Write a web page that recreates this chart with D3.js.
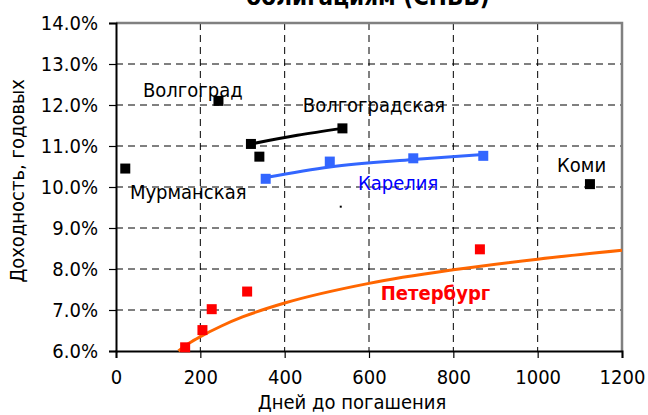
<!DOCTYPE html>
<html lang="ru">
<head>
    <meta charset="UTF-8">
    <title>Доходность по облигациям</title>
    <script src="https://d3js.org/d3.v7.min.js"></script>
    <style>
        body { margin: 0; background: #fff; }
        text { font-family: "DejaVu Sans Condensed", "DejaVu Sans", sans-serif; font-stretch: condensed; }
    </style>
</head>
<body>
    <div id="chart"></div>
    <script>
        const width = 648;
        const height = 415;
        const fontFam = '"DejaVu Sans Condensed", "DejaVu Sans", sans-serif';
        const fs = 20;

        // ticks
        const xTicks = [0, 200, 400, 600, 800, 1000, 1200];
        const yTicks = [6, 7, 8, 9, 10, 11, 12, 13, 14];

        // single black points (Мурманская, Волгоград, ?, Коми)
        const blackDays = [22, 243, 340, 1124];
        const blackYields = [10.45, 12.10, 10.74, 10.07];

        // Волгоградская
        const volgDays = [320, 537];
        const volgYields = [11.05, 11.43];
        const volgTrendDays = [320, 430, 537];
        const volgTrendYields = [11.05, 11.26, 11.43];

        // Карелия
        const karDays = [355, 507, 705, 871];
        const karYields = [10.20, 10.62, 10.70, 10.76];
        const karTrendDays = [355, 507, 705, 871];
        const karTrendYields = [10.23, 10.49, 10.67, 10.79];

        // Петербург
        const spbDays = [164, 205, 227, 311, 863];
        const spbYields = [6.09, 6.51, 7.02, 7.45, 8.48];
        const spbTrendDays = [148, 175, 200, 250, 300, 400, 600, 800, 1000, 1200];
        const spbTrendYields = [6.0, 6.2, 6.35, 6.61, 6.83, 7.17, 7.65, 7.98, 8.24, 8.46];

        // tiny stray dot
        const dotDays = [533];
        const dotYields = [9.52];

        // labels (left edge in days, middle in yield)
        const labelNames = ["Волгоград", "Волгоградская", "Мурманская", "Карелия", "Коми", "Петербург"];
        const labelDays = [64, 443, 33, 574, 1046, 628];
        const labelYields = [12.37, 12.0, 9.88, 10.10, 10.54, 7.41];
        const labelColors = ["#000", "#000", "#000", "#0000ff", "#000", "#ff0000"];

        const margin = { left: 116, right: 26, top: 23, bottom: 64 };

        const x = d3.scaleLinear().domain([0, 1200]).range([margin.left, width - margin.right]);
        const y = d3.scaleLinear().domain([6, 14]).range([height - margin.bottom, margin.top]);

        const svg = d3.select("#chart").append("svg")
            .attr("width", width)
            .attr("height", height);

        // title (cut off at top)
        svg.append("text")
            .attr("x", 368)
            .attr("y", 5)
            .attr("text-anchor", "middle")
            .attr("font-size", 24)
            .attr("font-weight", "bold")
            .text("облигациям (СНБВ)");

        // grid
        svg.append("g").selectAll("line")
            .data(xTicks.slice(1, -1))
            .join("line")
            .attr("x1", d => x(d)).attr("x2", d => x(d))
            .attr("y1", y(14)).attr("y2", y(6))
            .attr("stroke", "#000").attr("stroke-width", 1)
            .attr("stroke-dasharray", "7,5");

        svg.append("g").selectAll("line")
            .data(yTicks.slice(1, -1))
            .join("line")
            .attr("x1", x(0)).attr("x2", x(1200))
            .attr("y1", d => y(d)).attr("y2", d => y(d))
            .attr("stroke", "#000").attr("stroke-width", 1)
            .attr("stroke-dasharray", "7,5");

        // plot border (top, right)
        svg.append("path")
            .attr("d", `M${x(0)},${y(14)}H${x(1200)}V${y(6)}`)
            .attr("fill", "none")
            .attr("stroke", "#808080")
            .attr("stroke-width", 2.5);

        // axes
        const xAxis = svg.append("g")
            .attr("transform", `translate(0,${y(6)})`)
            .call(d3.axisBottom(x).tickValues(xTicks).tickSize(7).tickPadding(12)
                .tickFormat(d => String(d)));
        const yAxis = svg.append("g")
            .attr("transform", `translate(${x(0)},0)`)
            .call(d3.axisLeft(y).tickValues(yTicks).tickSize(7).tickPadding(11)
                .tickFormat(d => d.toFixed(1) + "%"));

        [xAxis, yAxis].forEach(g => {
            g.select(".domain").attr("stroke", "#000").attr("stroke-width", 2);
            g.selectAll(".tick line").attr("stroke", "#000").attr("stroke-width", 1.2);
            g.selectAll(".tick text")
                .attr("font-family", fontFam)
                .attr("font-size", fs)
                .attr("fill", "#000");
        });

        // axis titles
        svg.append("text")
            .attr("x", 352)
            .attr("y", 409)
            .attr("text-anchor", "middle")
            .attr("font-size", fs)
            .text("Дней до погашения");

        svg.append("text")
            .attr("transform", "translate(24,181) rotate(-90)")
            .attr("text-anchor", "middle")
            .attr("font-size", fs)
            .text("Доходность, годовых");

        // trendlines
        const line = d3.line()
            .x(d => x(d[0]))
            .y(d => y(d[1]))
            .curve(d3.curveMonotoneX);

        svg.append("path")
            .datum(d3.zip(spbTrendDays, spbTrendYields))
            .attr("d", line)
            .attr("fill", "none")
            .attr("stroke", "#ff6600")
            .attr("stroke-width", 3);

        svg.append("path")
            .datum(d3.zip(karTrendDays, karTrendYields))
            .attr("d", line)
            .attr("fill", "none")
            .attr("stroke", "#3366ff")
            .attr("stroke-width", 3);

        svg.append("path")
            .datum(d3.zip(volgTrendDays, volgTrendYields))
            .attr("d", line)
            .attr("fill", "none")
            .attr("stroke", "#000")
            .attr("stroke-width", 3);

        // markers
        const sq = 10;
        function squares(days, yields, color) {
            svg.append("g").selectAll("rect")
                .data(d3.zip(days, yields))
                .join("rect")
                .attr("x", d => x(d[0]) - sq / 2)
                .attr("y", d => y(d[1]) - sq / 2)
                .attr("width", sq)
                .attr("height", sq)
                .attr("fill", color);
        }
        squares(spbDays, spbYields, "#ff0000");
        squares(karDays, karYields, "#3366ff");
        squares(volgDays, volgYields, "#000");
        squares(blackDays, blackYields, "#000");

        svg.append("g").selectAll("rect")
            .data(d3.zip(dotDays, dotYields))
            .join("rect")
            .attr("x", d => x(d[0]) - 1)
            .attr("y", d => y(d[1]) - 1)
            .attr("width", 2)
            .attr("height", 2)
            .attr("fill", "#000");

        // labels
        svg.append("g").selectAll("text")
            .data(labelNames)
            .join("text")
            .attr("x", (d, i) => x(labelDays[i]))
            .attr("y", (d, i) => y(labelYields[i]) + 7)
            .attr("font-size", fs)
            .attr("font-weight", (d, i) => d === "Петербург" ? "bold" : "normal")
            .attr("fill", (d, i) => labelColors[i])
            .text(d => d);
    </script>
</body>
</html>
